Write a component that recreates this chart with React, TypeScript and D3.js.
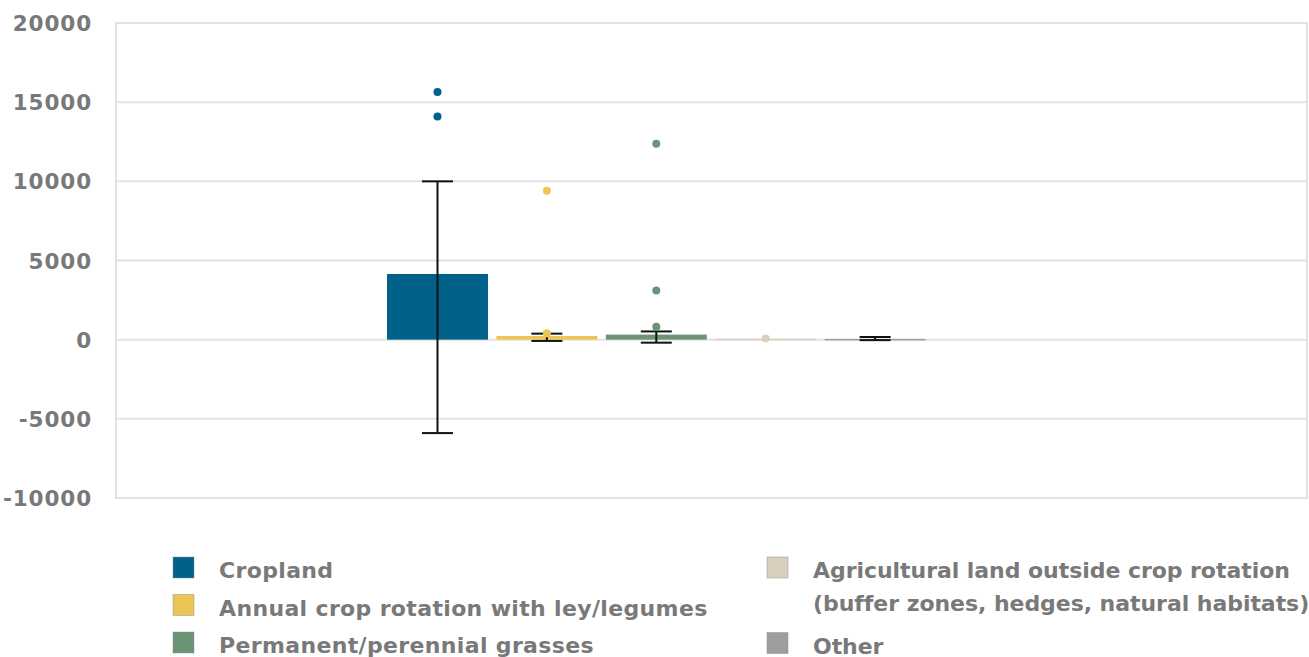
import React from "react";
import * as d3 from "d3";

// Series shown as bars (box value) with whiskers and outlier points
const seriesNames = [
  "Cropland",
  "Annual crop rotation with ley/legumes",
  "Permanent/perennial grasses",
  "Agricultural land outside crop rotation",
  "Other",
];
const seriesColors = ["#00618a", "#ebc655", "#6a9474", "#d8cfbf", "#9e9e9e"];
const barValues = [4150, 230, 320, 60, 50];
const whiskerHigh = [10000, 380, 520, null, 170];
const whiskerLow = [-5900, -80, -190, null, -30];
const outliers: number[][] = [
  [15650, 14100],
  [9400, 400],
  [12380, 3100, 820],
  [80],
  [],
];
const yTicks = [20000, 15000, 10000, 5000, 0, -5000, -10000];

const legendLeft = [
  { idx: 0, lines: ["Cropland"] },
  { idx: 1, lines: ["Annual crop rotation with ley/legumes"] },
  { idx: 2, lines: ["Permanent/perennial grasses"] },
];
const legendRight = [
  { idx: 3, lines: ["Agricultural land outside crop rotation", "(buffer zones, hedges, natural habitats)"] },
  { idx: 4, lines: ["Other"] },
];

const W = 1309;
const H = 657;
const plot = { left: 116, right: 1307, top: 23, bottom: 498 };
const FONT = "'DejaVu Sans', sans-serif";
const TEXT = "#797979";
const GRID = "#e2e2e2";

export default function App() {
  const y = d3.scaleLinear().domain([-10000, 20000]).range([plot.bottom, plot.top]);
  const x = d3
    .scaleBand<string>()
    .domain(seriesNames)
    .range([387, 925.6])
    .paddingInner(0.077)
    .paddingOuter(0);
  const bw = x.bandwidth();
  const capHalf = 15.5;

  const legendRow = (
    item: { idx: number; lines: string[] },
    sx: number,
    sy: number,
    spacing: number,
    key: string
  ) => (
    <g key={key}>
      <rect
        x={sx}
        y={sy}
        width={21}
        height={21}
        fill={seriesColors[item.idx]}
        stroke="#8a8a8a"
        strokeOpacity={0.45}
        strokeWidth={1}
      />
      {item.lines.map((l, i) => (
        <text
          key={i}
          x={sx + 46}
          y={sy + 21 + i * 33}
          fontFamily={FONT}
          fontSize={22}
          fontWeight={600}
          letterSpacing={spacing}
          fill={TEXT}
        >
          {l}
        </text>
      ))}
    </g>
  );

  return (
    <svg
      width={W}
      height={H}
      style={{ position: "absolute", left: 0, top: 0, background: "#fff" }}
    >
      {/* gridlines */}
      {yTicks.map((t) => (
        <line
          key={t}
          x1={plot.left}
          x2={plot.right}
          y1={y(t)}
          y2={y(t)}
          stroke={GRID}
          strokeWidth={2}
        />
      ))}
      {/* frame */}
      <rect
        x={plot.left}
        y={plot.top}
        width={plot.right - plot.left}
        height={plot.bottom - plot.top}
        fill="none"
        stroke={GRID}
        strokeWidth={2}
      />
      {/* y tick labels */}
      {yTicks.map((t) => (
        <text
          key={"l" + t}
          x={92}
          y={y(t) + 8}
          textAnchor="end"
          fontFamily={FONT}
          fontSize={21.5}
          fontWeight={600}
          letterSpacing={0.9}
          fill={TEXT}
        >
          {t}
        </text>
      ))}
      {/* bars */}
      {seriesNames.map((s, i) => {
        const v = barValues[i];
        const y0 = y(0);
        const y1 = y(v);
        return (
          <rect
            key={"b" + s}
            x={x(s)}
            y={Math.min(y0, y1)}
            width={bw}
            height={Math.max(1.5, Math.abs(y0 - y1))}
            fill={seriesColors[i]}
          />
        );
      })}
      {/* whiskers */}
      {seriesNames.map((s, i) => {
        const hi = whiskerHigh[i];
        const lo = whiskerLow[i];
        if (hi == null || lo == null) return null;
        const cx = (x(s) as number) + bw / 2;
        return (
          <g key={"w" + s} stroke="#111" strokeWidth={2}>
            <line x1={cx} x2={cx} y1={y(hi)} y2={y(lo)} />
            <line x1={cx - capHalf} x2={cx + capHalf} y1={y(hi)} y2={y(hi)} />
            <line x1={cx - capHalf} x2={cx + capHalf} y1={y(lo)} y2={y(lo)} />
          </g>
        );
      })}
      {/* outliers */}
      {seriesNames.map((s, i) => {
        const cx = (x(s) as number) + bw / 2;
        return outliers[i].map((v, j) => (
          <circle
            key={"o" + i + "-" + j}
            cx={cx}
            cy={y(v)}
            r={4}
            fill={seriesColors[i]}
          />
        ));
      })}
      {/* legend */}
      {legendLeft.map((it, k) => legendRow(it, 173, 557 + k * 37.5, 0.35, "ll" + k))}
      {legendRight.map((it, k) => legendRow(it, 767, 557 + k * 75.5, -0.05, "lr" + k))}
    </svg>
  );
}
